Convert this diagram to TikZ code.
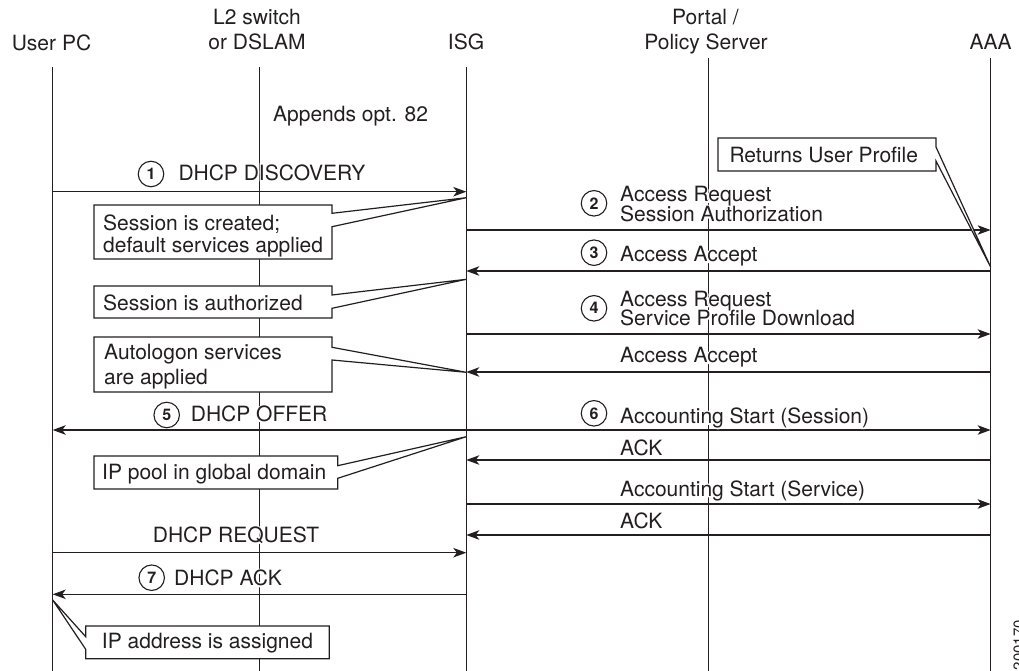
\documentclass[tikz,border=0pt]{standalone}
\usepackage{fontspec}
\setmainfont{TeX Gyre Heros}
% a heavily stroked copy of the face, used in white as a halo behind labels
\newfontfamily\halofont[FakeBold=14]{TeX Gyre Heros}
\usetikzlibrary{arrows.meta,calc}
\definecolor{ink}{RGB}{35,31,32}

% text with a white halo, so that lines passing behind it are cut around the glyphs
\newcommand\halotext[3]{%
  \node[lbl,text=white,font=\fontsize{21}{21}\halofont] (#1-h) at #2 {#3};
  \node[lbl] (#1) at #2 {#3};}

\begin{document}
\begin{tikzpicture}[x=1pt,y=-1pt,
  lbl/.style={font=\fontsize{21}{21}\selectfont, text=ink, inner sep=0pt, anchor=base west},
  hdr/.style={lbl, anchor=base},
  num/.style={circle, draw=ink, line width=1.1pt, minimum size=25.5pt, inner sep=0pt,
              font=\fontsize{16}{16}\selectfont\bfseries, text=ink, fill=white},
  life/.style={draw=ink, line width=1.2pt},
  msg/.style={draw=ink, line width=1.3pt, -{Stealth[length=13pt,width=9.5pt,inset=3.5pt]}},
  boxn/.style={rectangle, inner sep=0pt, outer sep=0pt, anchor=north west},
  callout/.style={draw=ink, line width=1.2pt, fill=white, line join=miter}]

\useasboundingbox (0,0) rectangle (1019,671);

% ---- participants ----
\node[hdr] (hPC)  at (51.5,50.7) {User PC};
\node[hdr] (hL2a) at (257,25)    {L2 switch};
\node[hdr] (hL2b) at (257,50)    {or DSLAM};
\node[hdr] (hISG) at (466,50)    {ISG};
\node[hdr] (hPoa) at (705.5,25)  {Portal /};
\node[hdr] (hPob) at (706,50)    {Policy Server};
\node[hdr] (hAAA) at (990.5,50)  {AAA};

\coordinate (pc)     at (52.7,67.5);
\coordinate (l2)     at (259.5,67.5);
\coordinate (isg)    at (466.3,67.5);
\coordinate (portal) at (708.8,58.5);
\coordinate (aaa)    at (990.6,58.5);

\foreach \p in {pc,l2,isg,portal,aaa}
  \draw[life] (\p) -- (\p |- 0,690);

\node[lbl] (opt82) at (273,122) {Appends opt. 82};

% ---- messages ----
\draw[msg] (pc  |- 0,191.7) -- (isg |- 0,191.7);
\draw[msg] (isg |- 0,230)   -- (aaa |- 0,230);
\draw[msg] (aaa |- 0,271)   -- (isg |- 0,271);
\draw[msg] (isg |- 0,334)   -- (aaa |- 0,334);
\draw[msg] (aaa |- 0,372)   -- (isg |- 0,372);
\draw[msg] (isg |- 0,430)   -- (pc  |- 0,430);
\draw[msg] (isg |- 0,430)   -- (aaa |- 0,430);
\draw[msg] (aaa |- 0,460)   -- (isg |- 0,460);
\draw[msg] (isg |- 0,504)   -- (aaa |- 0,504);
\draw[msg] (aaa |- 0,535)   -- (isg |- 0,535);
\draw[msg] (pc  |- 0,552.7) -- (isg |- 0,552.7);
\draw[msg] (isg |- 0,594.3) -- (pc  |- 0,594.3);

% ---- message labels ----
\halotext{tDisc}{(178.3,180)}{DHCP DISCOVERY}
\halotext{tAR1}{(620,201.7)}{Access Request}
\halotext{tSA}{(620,221.7)}{Session Authorization}
\halotext{tAA1}{(620,261.7)}{Access Accept}
\halotext{tAR2}{(620,306)}{Access Request}
\halotext{tSPD}{(620,325.7)}{Service Profile Download}
\halotext{tAA2}{(620,362.7)}{Access Accept}
\halotext{tOffer}{(190.7,421.7)}{DHCP OFFER}
\halotext{tASess}{(620,423.3)}{Accounting Start (Session)}
\halotext{tAck1}{(620,455)}{ACK}
\halotext{tASvc}{(620,496)}{Accounting Start (Service)}
\halotext{tAck2}{(620,528.3)}{ACK}
\halotext{tReq}{(152.7,542.7)}{DHCP REQUEST}
\halotext{tDAck}{(174,585.7)}{DHCP ACK}

% ---- step numbers ----
\node[num] (n1) at (151,174)     {1};
\node[num] (n2) at (594,203.3)   {2};
\node[num] (n3) at (594,252.7)   {3};
\node[num] (n4) at (594,308.3)   {4};
\node[num] (n5) at (166.7,415)   {5};
\node[num] (n6) at (594,413.3)   {6};
\node[num] (n7) at (151.7,577.7) {7};

% ---- callouts ----
% session created
\node[boxn, minimum width=238pt, minimum height=54pt] (cA) at (94,205) {};
\coordinate (tipA) at (isg |- 0,197.7);
\draw[callout] (tipA) -- (cA.east |- 0,213.3) -- (cA.north east) -- (cA.north west)
  -- (cA.south west) -- (cA.south east) -- (cA.east |- 0,226.7) -- cycle;
\node[lbl] (cA1) at (103,230) {Session is created;};
\node[lbl] (cA2) at (103,252) {default services applied};

% session authorized
\node[boxn, minimum width=238pt, minimum height=32pt] (cB) at (94,286) {};
\coordinate (tipB) at (isg |- 0,279.3);
\draw[callout] (tipB) -- (cB.east |- 0,295) -- (cB.north east) -- (cB.north west)
  -- (cB.south west) -- (cB.south east) -- (cB.east |- 0,308.3) -- cycle;
\node[lbl] (cB1) at (103,310) {Session is authorized};

% autologon
\node[boxn, minimum width=238pt, minimum height=55pt] (cC) at (94,337) {};
\coordinate (tipC) at (isg |- 0,372.3);
\draw[callout] (tipC) -- (cC.east |- 0,347.3) -- (cC.north east) -- (cC.north west)
  -- (cC.south west) -- (cC.south east) -- (cC.east |- 0,360) -- cycle;
\node[lbl] (cC1) at (104,359.3) {Autologon services};
\node[lbl] (cC2) at (104,384)   {are applied};

% IP pool
\node[boxn, minimum width=243.7pt, minimum height=33pt] (cD) at (94,456) {};
\coordinate (tipD) at (isg |- 0,436.7);
\draw[callout] (tipD) -- (cD.east |- 0,465.7) -- (cD.north east) -- (cD.north west)
  -- (cD.south west) -- (cD.south east) -- (cD.east |- 0,478.3) -- cycle;
\node[lbl] (cD1) at (102,479) {IP pool in global domain};

% IP address assigned (pointer on the left side)
\node[boxn, minimum width=243.6pt, minimum height=32.7pt] (cE) at (85.7,626) {};
\coordinate (tipE) at (pc |- 0,600);
\draw[callout] (tipE) -- (cE.west |- 0,636.7) -- (cE.north west) -- (cE.north east)
  -- (cE.south east) -- (cE.south west) -- (cE.west |- 0,649.3) -- cycle;
\node[hdr] (cE1) at (207.5,648.3) {IP address is assigned};

% returns user profile
\node[boxn, minimum width=218pt, minimum height=33pt] (cF) at (718,138) {};
\coordinate (tipF) at (aaa |- 0,267);
\draw[callout] (tipF) -- (cF.east |- 0,147) -- (cF.north east) -- (cF.north west)
  -- (cF.south west) -- (cF.south east) -- (cF.east |- 0,161) -- cycle;
\node[lbl] (cF1) at (729.3,162.7) {Returns User Profile};

% figure number at the edge
\node[rotate=90, anchor=base east, inner sep=0pt, text=ink,
      font=\fontsize{15}{15}\selectfont] (fignum) at (1024,620) {200170};
\end{tikzpicture}
\end{document}
